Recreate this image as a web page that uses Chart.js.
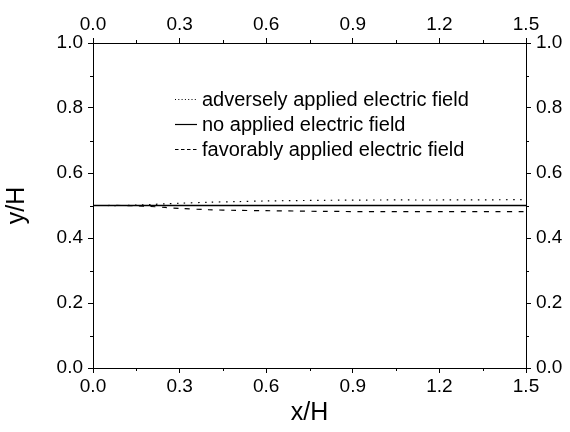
<!DOCTYPE html>
<html>
<head>
<meta charset="utf-8">
<script src="https://cdn.jsdelivr.net/npm/chart.js@4"></script>
<style>
html,body{margin:0;padding:0;background:#fff;}
#wrap{width:570px;height:432px;position:relative;}
</style>
</head>
<body>
<div id="wrap"><canvas id="c" width="570" height="432"></canvas></div>
<script>
// Data
const xValues      = [0, 0.1, 0.15, 0.2, 0.25, 0.3, 0.4, 0.5, 0.6, 0.8, 1.0, 1.2, 1.5];
const adverseY     = [0.5, 0.5, 0.501, 0.503, 0.505, 0.507, 0.510, 0.512, 0.514, 0.516, 0.517, 0.517, 0.518];
const noFieldY     = [0.5, 0.5, 0.5, 0.5, 0.5, 0.5, 0.5, 0.5, 0.5, 0.5, 0.5, 0.5, 0.5];
const favorableY   = [0.5, 0.5, 0.499, 0.497, 0.494, 0.491, 0.487, 0.485, 0.484, 0.482, 0.481, 0.481, 0.481];
const seriesLabels = ['adversely applied electric field', 'no applied electric field', 'favorably applied electric field'];
const xTickValues  = [0.0, 0.3, 0.6, 0.9, 1.2, 1.5];
const yTickValues  = [0.0, 0.2, 0.4, 0.6, 0.8, 1.0];

const FONT = "'Liberation Sans', Arial, sans-serif";
const pts = ys => xValues.map((x, i) => ({x: x, y: ys[i]}));

const minorTicks = {
  id: 'minorTicks',
  afterDraw(chart) {
    const ctx = chart.ctx, a = chart.chartArea;
    ctx.save();
    ctx.strokeStyle = '#000'; ctx.lineWidth = 1;
    const L = 3;
    for (let i = 0; i < xTickValues.length - 1; i++) {
      const v = (xTickValues[i] + xTickValues[i+1]) / 2;
      const px = Math.round(chart.scales.x.getPixelForValue(v)) + 0.5;
      ctx.beginPath();
      ctx.moveTo(px, a.bottom); ctx.lineTo(px, a.bottom + L);
      ctx.moveTo(px, a.top); ctx.lineTo(px, a.top - L);
      ctx.stroke();
    }
    for (let i = 0; i < yTickValues.length - 1; i++) {
      const v = (yTickValues[i] + yTickValues[i+1]) / 2;
      const py = Math.round(chart.scales.y.getPixelForValue(v)) + 0.5;
      ctx.beginPath();
      ctx.moveTo(a.left, py); ctx.lineTo(a.left - L, py);
      ctx.moveTo(a.right, py); ctx.lineTo(a.right + L, py);
      ctx.stroke();
    }
    ctx.restore();
  }
};

const innerLegend = {
  id: 'innerLegend',
  afterDraw(chart) {
    const ctx = chart.ctx;
    const dashes = [[1, 2.3], [], [3.5, 2.5]];
    const x0 = 175, x1 = 197, tx = 202;
    const rows = [99, 124, 149];
    ctx.save();
    ctx.font = '20px ' + FONT;
    ctx.fillStyle = '#000';
    ctx.textBaseline = 'middle';
    chart.data.datasets.forEach((ds, i) => {
      ctx.strokeStyle = '#000';
      ctx.lineWidth = 1.2;
      ctx.setLineDash(dashes[i]);
      ctx.beginPath();
      ctx.moveTo(x0, rows[i] + 0.5); ctx.lineTo(x1, rows[i] + 0.5);
      ctx.stroke();
      ctx.setLineDash([]);
      ctx.fillText(ds.label, tx, rows[i] + 1);
    });
    ctx.restore();
  }
};

const axisCommon = (pos, min, max, step, fit, title) => ({
  type: 'linear', position: pos, min: min, max: max,
  afterFit: s => { if (pos === 'left' || pos === 'right') s.width = fit; else s.height = fit; },
  afterBuildTicks: s => { s.ticks = (pos === 'left' || pos === 'right' ? yTickValues : xTickValues).map(v => ({value: v})); },
  ticks: {
    color: '#000', font: {family: FONT, size: 19}, padding: (pos === 'left' || pos === 'right') ? 5 : 2,
    maxRotation: 0, autoSkip: false,
    callback: v => Number(v).toFixed(1)
  },
  grid: {drawOnChartArea: false, drawTicks: true, tickLength: 5, color: '#000', lineWidth: 1},
  border: {display: true, color: '#000', width: 1},
  title: title ? {display: true, text: title, color: '#000', font: {family: FONT, size: 25}, padding: {top: 2, bottom: 4}} : {display: false}
});

new Chart(document.getElementById('c'), {
  type: 'line',
  data: {
    datasets: [
      {label: seriesLabels[0], data: pts(adverseY), borderColor: '#000', borderWidth: 1.2, borderDash: [1.5, 5.5], pointRadius: 0, fill: false, tension: 0.3},
      {label: seriesLabels[1], data: pts(noFieldY), borderColor: '#000', borderWidth: 1.3, pointRadius: 0, fill: false},
      {label: seriesLabels[2], data: pts(favorableY), borderColor: '#000', borderWidth: 1.2, borderDash: [5, 6.5], pointRadius: 0, fill: false, tension: 0.3}
    ]
  },
  options: {
    responsive: false, animation: false,
    layout: {padding: 0},
    plugins: {legend: {display: false}, tooltip: {enabled: false}},
    scales: {
      x:  axisCommon('bottom', 0, 1.5, 0.3, 64, 'x/H'),
      x2: axisCommon('top', 0, 1.5, 0.3, 43, null),
      y:  axisCommon('left', 0, 1, 0.2, 93, 'y/H'),
      y2: axisCommon('right', 0, 1, 0.2, 44, null)
    }
  },
  plugins: [minorTicks, innerLegend]
});
</script>
</body>
</html>
